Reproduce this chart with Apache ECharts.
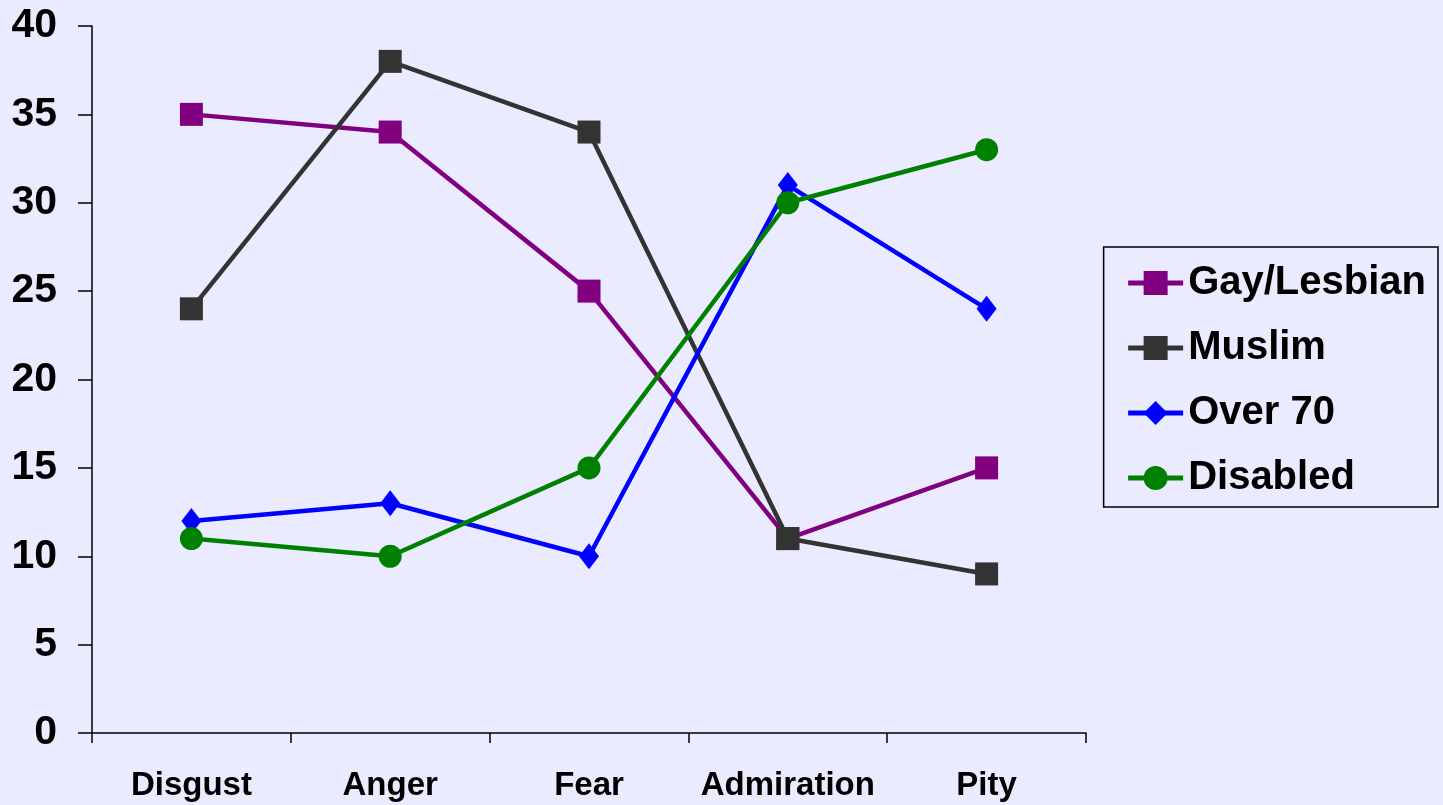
<!DOCTYPE html>
<html><head><meta charset="utf-8">
<script src="https://cdn.jsdelivr.net/npm/echarts@6/dist/echarts.min.js"></script>
<style>html,body{margin:0;padding:0;background:#EAEBFE}#c{width:1443px;height:805px}</style>
</head><body><div id="c"></div>
<script>
const categories = ['Disgust','Anger','Fear','Admiration','Pity'];
const gayLesbian = [35, 34, 25, 11, 15];
const muslim = [24, 38, 34, 11, 9];
const over70 = [12, 13, 10, 31, 24];
const disabled = [11, 10, 15, 30, 33];
const yTicks = [0,5,10,15,20,25,30,35,40];

const chart = echarts.init(document.getElementById('c'));
const font = 'Liberation Sans, Arial, sans-serif';
function s(name, data, color, symbol, size){
  return {name, type:'line', data, symbol, symbolSize:size, showSymbol:true,
    lineStyle:{color, width:4.5}, itemStyle:{color}, emphasis:{disabled:true}, z: 2};
}
chart.setOption({
  backgroundColor:'#EAEBFE',
  animation:false,
  grid:{left:92, right:357, top:26, bottom:72, containLabel:false},
  legend:{
    orient:'vertical', right:5, top:247,
    backgroundColor:'#EAEBFE', borderColor:'#000', borderWidth:1.5,
    padding:[16,12,9,22], itemGap:25, itemWidth:55, itemHeight:30, itemTextGap:14,
    lineStyle:{width:5},
    textStyle:{fontFamily:font, fontWeight:'bold', fontSize:40, color:'#000', lineHeight:40},
    data:['Gay/Lesbian','Muslim','Over 70','Disabled']
  },
  xAxis:{type:'category', data:categories, boundaryGap:true,
    axisLine:{lineStyle:{color:'#000', width:1.5}},
    axisTick:{show:true, interval:0, length:10, lineStyle:{color:'#000', width:1.5}},
    axisLabel:{interval:0, fontFamily:font, fontWeight:'bold', fontSize:33, color:'#000', margin:36}},
  yAxis:{type:'value', min:0, max:40, interval:5,
    axisLine:{show:true, lineStyle:{color:'#000', width:1.5}},
    axisTick:{show:true, length:14, lineStyle:{color:'#000', width:1.5}},
    splitLine:{show:false},
    axisLabel:{fontFamily:font, fontWeight:'bold', fontSize:41, color:'#000', margin:35,
      formatter:v => yTicks.includes(v) ? String(v) : ''}},
  series:[
    s('Gay/Lesbian', gayLesbian, '#800080', 'rect', 23),
    s('Muslim', muslim, '#333333', 'rect', 23),
    s('Over 70', over70, '#0000FF', 'diamond', [20,26]),
    s('Disabled', disabled, '#008000', 'circle', 23)
  ]
});
</script></body></html>
